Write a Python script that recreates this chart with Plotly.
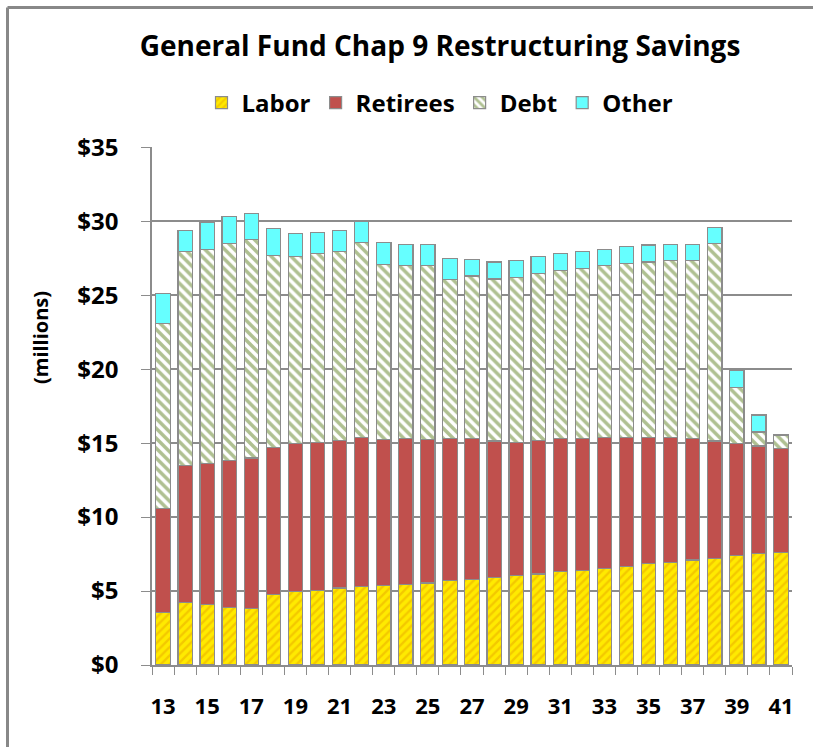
import plotly.graph_objects as go

years = list(range(13, 42))
labor = [3.55, 4.25, 4.10, 3.90, 3.80, 4.75, 4.95, 5.05, 5.20, 5.30, 5.40, 5.45, 5.55, 5.70, 5.80,
         5.90, 6.05, 6.15, 6.30, 6.40, 6.50, 6.65, 6.85, 6.95, 7.10, 7.20, 7.40, 7.55, 7.60]
retirees = [7.05, 9.25, 9.55, 9.95, 10.20, 9.95, 10.00, 10.00, 10.00, 10.10, 9.85, 9.85, 9.70, 9.60, 9.50,
            9.25, 9.00, 9.05, 9.00, 8.90, 8.90, 8.75, 8.55, 8.45, 8.20, 7.95, 7.55, 7.25, 7.05]
debt = [12.50, 14.45, 14.45, 14.65, 14.75, 13.00, 12.65, 12.75, 12.75, 13.15, 11.85, 11.70, 11.75, 10.75, 11.00,
        10.95, 11.15, 11.25, 11.35, 11.50, 11.60, 11.75, 11.85, 11.95, 12.05, 13.35, 3.80, 0.95, 0.90]
other = [2.00, 1.45, 1.85, 1.80, 1.80, 1.80, 1.55, 1.45, 1.45, 1.45, 1.45, 1.45, 1.45, 1.45, 1.10,
         1.15, 1.15, 1.15, 1.15, 1.15, 1.10, 1.15, 1.15, 1.10, 1.10, 1.10, 1.15, 1.15, 0.0]
x_labels = list(range(13, 42, 2))
y_ticks = [0, 5, 10, 15, 20, 25, 30, 35]

FONT = "Open Sans"
W, H = 813, 747
L, R, T, B = 152, 21, 147, 82
edge = "#8C8C8C"

def bfont(size):
    return dict(family=FONT, size=size, color="#000000", weight="bold")

fig = go.Figure()
common = dict(width=0.65)
fig.add_bar(x=years, y=labor, name="Labor",
            marker=dict(color="#FFEA00", line=dict(color=edge, width=1.2),
                        pattern=dict(shape="/", fgcolor="#E8A800", size=6, solidity=0.4)), **common)
fig.add_bar(x=years, y=retirees, name="Retirees",
            marker=dict(color="#C0504D", line=dict(color=edge, width=1.2)), **common)
fig.add_bar(x=years, y=debt, name="Debt",
            marker=dict(color="#FFFFFF", line=dict(color=edge, width=1.2),
                        pattern=dict(shape="\\", fgcolor="#5F8224", size=7, solidity=0.5)), **common)
fig.add_bar(x=years, y=other, name="Other",
            marker=dict(color="#66FFFF", line=dict(color=edge, width=1.2)), **common)

pw, ph = W - L - R, H - T - B
def px_to_paper(px, py):
    return (px - L) / pw, (H - B - py) / ph

bx0, by_top = px_to_paper(7.5, 7.5)
bx1, by_bot = px_to_paper(900, 900)
ax_x, ax_y = px_to_paper(40, 338)

bounds = [v - 0.5 for v in years] + [years[-1] + 0.5]

border = dict(color="#888888", width=3)
fig.update_layout(
    width=W, height=H,
    margin=dict(l=L, r=R, t=T, b=B, autoexpand=False),
    barmode="stack",
    plot_bgcolor="white", paper_bgcolor="white",
    font=dict(family=FONT, color="#000000"),
    title=dict(text="General Fund Chap 9 Restructuring Savings",
               x=440 / W, xanchor="center", y=1 - 46 / H, yanchor="middle",
               font=bfont(28)),
    legend=dict(orientation="h", x=(440 - L) / pw, xanchor="center",
                y=(H - B - 103) / ph, yanchor="middle",
                font=bfont(24), traceorder="normal", itemwidth=30,
                bgcolor="rgba(0,0,0,0)"),
    xaxis=dict(range=[years[0] - 0.5, years[-1] + 0.5],
               tickmode="array", tickvals=x_labels,
               ticks="", tickfont=bfont(22),
               ticklabelstandoff=21,
               showline=True, linecolor=edge, linewidth=1.5, showgrid=False,
               zeroline=False,
               minor=dict(tickmode="array", tickvals=bounds, ticks="outside",
                          ticklen=8, tickcolor=edge, tickwidth=1.2, showgrid=False)),
    yaxis=dict(range=[0, 35.02], tickmode="array", tickvals=y_ticks,
               ticktext=[f"${v}" for v in y_ticks],
               ticks="outside", ticklen=9, tickcolor=edge, tickwidth=1.2,
               ticklabelstandoff=18,
               tickfont=bfont(24),
               showline=True, linecolor=edge, linewidth=1.5,
               showgrid=True, gridcolor=edge, gridwidth=1.5, zeroline=False),
    annotations=[dict(text="(millions)", xref="paper", yref="paper", x=ax_x, y=ax_y,
                      xanchor="center", yanchor="middle", textangle=-90,
                      showarrow=False, font=bfont(20))],
    shapes=[dict(type="line", xref="paper", yref="paper", x0=bx0, y0=by_bot,
                 x1=bx0, y1=by_top, line=border, layer="above"),
            dict(type="line", xref="paper", yref="paper", x0=bx0, y0=by_top,
                 x1=bx1, y1=by_top, line=border, layer="above")],
    bargap=0.35,
)

fig.write_html("out.html", config={"displayModeBar": False},
               post_script="document.documentElement.style.overflow='hidden';"
                           "document.body.style.margin='0';document.body.style.overflow='hidden';")
